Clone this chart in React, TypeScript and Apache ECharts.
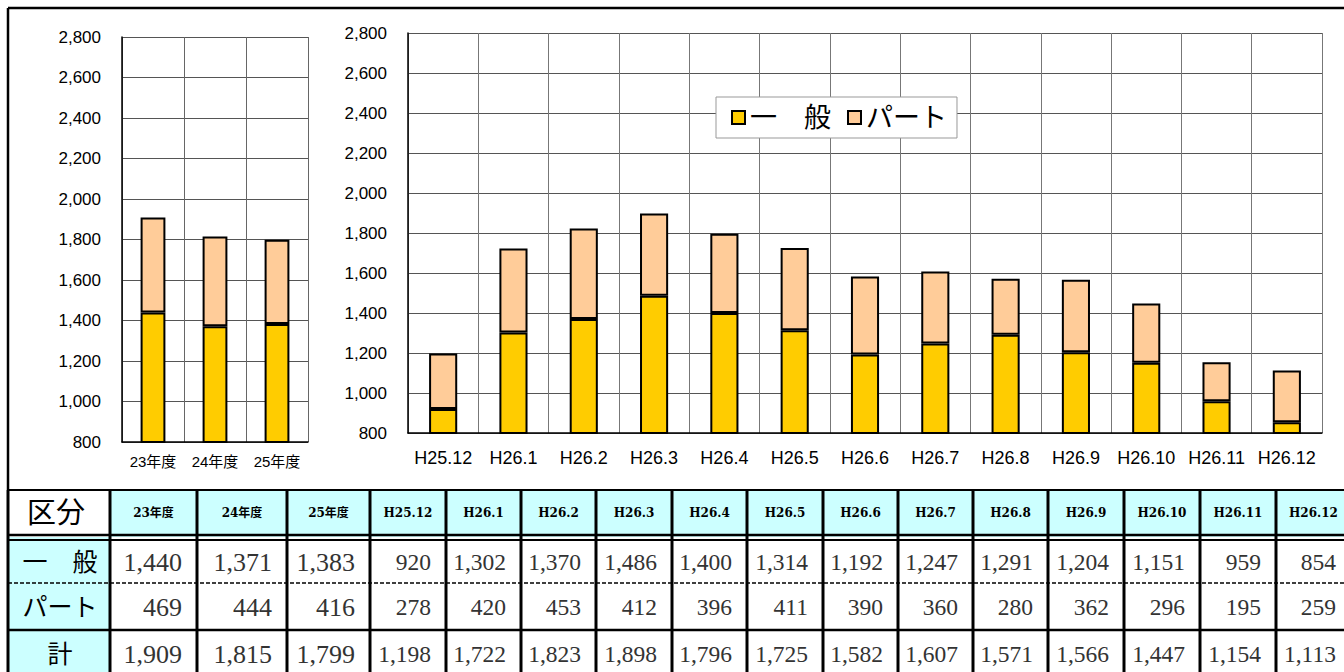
import React, { useEffect, useRef } from "react";
import * as echarts from "echarts";

// ---- data ----
const categoriesFY = ["23年度", "24年度", "25年度"];
const categoriesMonth = [
  "H25.12", "H26.1", "H26.2", "H26.3", "H26.4", "H26.5", "H26.6",
  "H26.7", "H26.8", "H26.9", "H26.10", "H26.11", "H26.12",
];
const generalFY = [1440, 1371, 1383];
const partFY = [469, 444, 416];
const totalFY = [1909, 1815, 1799];
const generalMonth = [920, 1302, 1370, 1486, 1400, 1314, 1192, 1247, 1291, 1204, 1151, 959, 854];
const partMonth = [278, 420, 453, 412, 396, 411, 390, 360, 280, 362, 296, 195, 259];
const totalMonth = [1198, 1722, 1823, 1898, 1796, 1725, 1582, 1607, 1571, 1566, 1447, 1154, 1113];
const seriesNames = ["一　般", "パート"];
const rowLabels = ["一　般", "パート", "計"];
const headerLabel = "区分";
const yMin = 800;
const yMax = 2800;
const yInterval = 200;

// ---- layout constants ----
const colEdges = [8, 110, 197, 287, 370, 446, 521, 596, 672, 747, 823, 898, 973, 1048, 1124, 1200, 1276, 1351];
const rowEdges = [490, 537, 583, 630, 680];
const rowCenters = [513, 562, 607, 654];

const YELLOW = "#FFCC00";
const PEACH = "#FFCC99";
const CYAN = "#CCFFFF";
const SANS = "'Liberation Sans', 'Noto Sans CJK JP', sans-serif";
const SERIF = "'Liberation Serif', 'Noto Sans CJK JP', serif";
const HEAD = "'DejaVu Serif', 'Noto Sans CJK JP', serif";

const fmt = (n: number) => n.toLocaleString("en-US");

function buildTable(): any[] {
  const els: any[] = [];
  const headers = [...categoriesFY, ...categoriesMonth];
  const rows = [
    [...generalFY, ...generalMonth],
    [...partFY, ...partMonth],
    [...totalFY, ...totalMonth],
  ];
  const fyCount = categoriesFY.length;
  const tableLeft = colEdges[0];
  const tableRight = colEdges[colEdges.length - 1];
  for (let c = 1; c < colEdges.length - 1; c++) {
    els.push({
      type: "rect", z: 1,
      shape: { x: colEdges[c], y: rowEdges[0], width: colEdges[c + 1] - colEdges[c], height: rowEdges[1] - rowEdges[0] },
      style: { fill: CYAN },
    });
  }
  els.push({
    type: "rect", z: 1,
    shape: { x: colEdges[0], y: rowEdges[1], width: colEdges[1] - colEdges[0], height: rowEdges[4] - rowEdges[1] },
    style: { fill: CYAN },
  });
  for (let c = 0; c < colEdges.length; c++) {
    els.push({
      type: "line", z: 5,
      shape: { x1: colEdges[c], y1: rowEdges[0], x2: colEdges[c], y2: rowEdges[4] },
      style: { stroke: "#000", lineWidth: 3 },
    });
  }
  els.push({ type: "line", z: 5, shape: { x1: tableLeft, y1: rowEdges[0], x2: tableRight, y2: rowEdges[0] }, style: { stroke: "#000", lineWidth: 2 } });
  els.push({ type: "line", z: 5, shape: { x1: tableLeft, y1: 535, x2: tableRight, y2: 535 }, style: { stroke: "#000", lineWidth: 2.5 } });
  els.push({ type: "line", z: 5, shape: { x1: tableLeft, y1: 540, x2: tableRight, y2: 540 }, style: { stroke: "#000", lineWidth: 2 } });
  els.push({ type: "line", z: 5, shape: { x1: tableLeft, y1: rowEdges[2], x2: tableRight, y2: rowEdges[2] }, style: { stroke: "#000", lineWidth: 1.5, lineDash: [4, 2] } });
  els.push({ type: "line", z: 5, shape: { x1: tableLeft, y1: rowEdges[3], x2: tableRight, y2: rowEdges[3] }, style: { stroke: "#000", lineWidth: 2.5 } });
  els.push({
    type: "text", z: 6,
    style: {
      x: (colEdges[0] + colEdges[1]) / 2 - 3, y: rowCenters[0], text: headerLabel,
      font: `29px ${SERIF}`, fill: "#000", align: "center", verticalAlign: "middle",
    },
  });
  headers.forEach((h, i) => {
    els.push({
      type: "text", z: 6,
      style: {
        x: (colEdges[i + 1] + colEdges[i + 2]) / 2, y: rowCenters[0], text: h,
        font: `bold 12px ${HEAD}`, fill: "#000", align: "center", verticalAlign: "middle",
      },
    });
  });
  rows.forEach((vals, r) => {
    els.push({
      type: "text", z: 6,
      style: {
        x: (colEdges[0] + colEdges[1]) / 2 + 1, y: rowCenters[r + 1], text: rowLabels[r],
        font: `25px ${SERIF}`, fill: "#000", align: "center", verticalAlign: "middle",
      },
    });
    vals.forEach((v, i) => {
      const size = i < fyCount ? 26 : 23.5;
      els.push({
        type: "text", z: 6,
        style: {
          x: colEdges[i + 2] - 15, y: rowCenters[r + 1], text: fmt(v),
          font: `${size}px ${SERIF}`, fill: "#333", align: "right", verticalAlign: "middle",
        },
      });
    });
  });
  els.push({ type: "line", z: 5, shape: { x1: 8, y1: 8, x2: 1344, y2: 8 }, style: { stroke: "#000", lineWidth: 2.5 } });
  els.push({ type: "line", z: 5, shape: { x1: 8, y1: 8, x2: 8, y2: rowEdges[0] }, style: { stroke: "#000", lineWidth: 2.5 } });
  return els;
}

export default function App() {
  const ref = useRef<HTMLDivElement>(null);
  useEffect(() => {
    if (!ref.current) return;
    const chart = echarts.init(ref.current, null, { renderer: "svg" });
    const barStyle = (color: string) => ({ color, borderColor: "#000", borderWidth: 2 });
    const yAxisCommon = (gridIndex: number) => ({
      type: "value", gridIndex, min: yMin, max: yMax, interval: yInterval,
      axisLine: { show: true, lineStyle: { color: "#000", width: 1.5 } },
      axisTick: { show: false },
      axisLabel: { formatter: (v: number) => fmt(v), fontSize: 17, fontFamily: SANS, color: "#000", margin: 21 },
      splitLine: { show: true, lineStyle: { color: "#555", width: 1 } },
    });
    const option: any = {
      animation: false,
      backgroundColor: "#fff",
      legend: {
        data: seriesNames,
        left: 716, top: 97,
        orient: "horizontal",
        itemWidth: 13, itemHeight: 13, itemGap: 16,
        padding: [7, 10, 7, 15],
        borderColor: "#999", borderWidth: 1,
        backgroundColor: "#fff",
        icon: "rect",
        textStyle: { fontSize: 27, fontFamily: SANS, color: "#000" },
      },
      grid: [
        { left: 122, top: 37, width: 186, height: 405 },
        { left: 408, top: 33, width: 914, height: 400 },
      ],
      xAxis: [
        {
          type: "category", gridIndex: 0, data: categoriesFY,
          axisLine: { lineStyle: { color: "#000", width: 1.5 } },
          axisTick: { show: false },
          axisLabel: { fontSize: 15, fontFamily: SANS, color: "#000", margin: 12, interval: 0 },
          splitLine: { show: true, interval: 0, lineStyle: { color: "#666", width: 1 } },
        },
        {
          type: "category", gridIndex: 1, data: categoriesMonth,
          axisLine: { lineStyle: { color: "#000", width: 1.5 } },
          axisTick: { show: false },
          axisLabel: { fontSize: 18, fontFamily: SANS, color: "#000", margin: 16, interval: 0 },
          splitLine: { show: true, interval: 0, lineStyle: { color: "#777", width: 1 } },
        },
      ],
      yAxis: [yAxisCommon(0), yAxisCommon(1)],
      series: [
        { name: seriesNames[0], type: "bar", stack: "a", xAxisIndex: 0, yAxisIndex: 0, barWidth: "40%", data: generalFY, itemStyle: barStyle(YELLOW) },
        { name: seriesNames[1], type: "bar", stack: "a", xAxisIndex: 0, yAxisIndex: 0, barWidth: "40%", data: partFY, itemStyle: barStyle(PEACH) },
        { name: seriesNames[0], type: "bar", stack: "b", xAxisIndex: 1, yAxisIndex: 1, barWidth: "40%", data: generalMonth, itemStyle: barStyle(YELLOW) },
        { name: seriesNames[1], type: "bar", stack: "b", xAxisIndex: 1, yAxisIndex: 1, barWidth: "40%", data: partMonth, itemStyle: barStyle(PEACH) },
      ],
      graphic: buildTable(),
    };
    chart.setOption(option);
    return () => chart.dispose();
  }, []);
  return (
    <div
      ref={ref}
      style={{ position: "fixed", left: 0, top: 0, width: 1344, height: 672, background: "#fff" }}
    />
  );
}
